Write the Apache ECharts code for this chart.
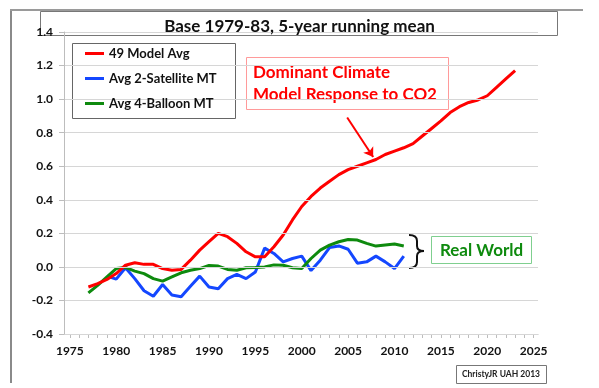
<!DOCTYPE html>
<html><head><meta charset="utf-8">
<script src="https://cdn.jsdelivr.net/npm/echarts@6/dist/echarts.min.js"></script>
<style>html,body{margin:0;padding:0;background:#fff}#c{width:599px;height:388px}</style>
</head><body><div id="c"></div>
<script>
const chartTitle = 'Base 1979-83, 5-year running mean';
const seriesNames = ['49 Model Avg', 'Avg 2-Satellite MT', 'Avg 4-Balloon MT'];

// 49 Model Avg, 1977..2023
const modelStart = 1977;
const modelAvg = [-0.12, -0.10, -0.075, -0.04, 0.01, 0.025, 0.015, 0.015, -0.01, -0.02,
  -0.015, 0.04, 0.10, 0.15, 0.20, 0.18, 0.14, 0.09, 0.06, 0.06,
  0.12, 0.19, 0.28, 0.36, 0.42, 0.47, 0.51, 0.55, 0.58, 0.60,
  0.62, 0.64, 0.67, 0.69, 0.71, 0.735, 0.78, 0.825, 0.87, 0.92,
  0.955, 0.98, 0.995, 1.02, 1.07, 1.12, 1.17];

// Avg 2-Satellite MT, 1979..2011
const satStart = 1979;
const satellite = [-0.055, -0.073, -0.005, -0.07, -0.142, -0.175, -0.105, -0.168, -0.178, -0.115,
  -0.055, -0.12, -0.13, -0.07, -0.045, -0.07, -0.03, 0.112, 0.08, 0.03,
  0.05, 0.064, -0.022, 0.04, 0.115, 0.125, 0.105, 0.022, 0.03, 0.064,
  0.03, -0.01, 0.064];

// Avg 4-Balloon MT, 1977..2011
const balloonStart = 1977;
const balloon = [-0.155, -0.11, -0.06, -0.01, -0.003, -0.025, -0.04, -0.07, -0.085, -0.06,
  -0.035, -0.02, -0.01, 0.008, 0.005, -0.015, -0.02, -0.005, -0.003, 0.0,
  0.012, 0.01, -0.005, -0.01, 0.05, 0.10, 0.13, 0.15, 0.163, 0.16,
  0.14, 0.124, 0.13, 0.136, 0.124];

const xLabelYears = [1975, 1980, 1985, 1990, 1995, 2000, 2005, 2010, 2015, 2020, 2025];
const xTickYears = [1975,1976,1977,1978,1979,1980,1981,1982,1983,1984,1985,1986,1987,1988,1989,1990,
  1991,1992,1993,1994,1995,1996,1997,1998,1999,2000,2001,2002,2003,2004,2005,2006,2007,2008,2009,2010,
  2011,2012,2013,2014,2015,2016,2017,2018,2019,2020,2021,2022,2023,2024,2025];

// arrow annotation endpoints in data space [year, value]
const arrowFrom = [2004.9, 0.89];
const arrowTo = [2007.7, 0.655];

function pairs(start, vals) { return vals.map((v, i) => [start + i, v]); }

const FONT = 'Lato, "Liberation Sans", sans-serif';
const chart = echarts.init(document.getElementById('c'), null, {renderer: 'canvas'});

const braceStyle = {stroke: '#111', lineWidth: 2, fill: null};

chart.setOption({
  animation: false,
  backgroundColor: '#fff',
  title: {
    text: chartTitle, left: 'center', top: 13, z: 10,
    textStyle: {fontFamily: FONT, fontWeight: 'bold', fontSize: 17, color: '#111'}
  },
  legend: {
    orient: 'vertical', left: 80, top: 42, itemGap: 12, z: 10,
    icon: 'rect', itemWidth: 19, itemHeight: 3,
    data: seriesNames,
    textStyle: {fontFamily: FONT, fontWeight: 'bold', fontSize: 13, color: '#111'}
  },
  grid: {left: 64, right: 61, top: 32, bottom: 54},
  xAxis: {
    type: 'value', min: 1974.37, max: 2025.47,
    axisLine: {onZero: false, lineStyle: {color: '#bdbdbd'}},
    axisTick: {show: true, customValues: xTickYears, length: 4, lineStyle: {color: '#bdbdbd'}},
    axisLabel: {customValues: xLabelYears, margin: 11, fontFamily: FONT, fontWeight: 'bold', fontSize: 12, color: '#111',
      formatter: v => String(v)},
    splitLine: {show: false}
  },
  yAxis: {
    type: 'value', min: -0.4, max: 1.4, interval: 0.2, z: 5,
    axisLine: {show: true, lineStyle: {color: '#bdbdbd'}},
    axisTick: {show: true, length: 5, lineStyle: {color: '#bdbdbd'}},
    axisLabel: {margin: 11, fontFamily: FONT, fontWeight: 'bold', fontSize: 12, color: '#111',
      formatter: v => v.toFixed(1)},
    splitLine: {show: true, lineStyle: {color: '#d6d6d6', width: 1}}
  },
  series: [
    {name: seriesNames[0], type: 'line', data: pairs(modelStart, modelAvg), showSymbol: false,
      lineStyle: {color: '#ff0000', width: 3}, itemStyle: {color: '#ff0000'}, z: 4,
      markLine: {silent: true, symbol: ['none', 'arrow'], symbolSize: 9,
        lineStyle: {color: '#ff0000', width: 2, type: 'solid'}, label: {show: false},
        data: [[{coord: arrowFrom}, {coord: arrowTo}]]}},
    {name: seriesNames[1], type: 'line', data: pairs(satStart, satellite), showSymbol: false,
      lineStyle: {color: '#1447ff', width: 3}, itemStyle: {color: '#1447ff'}, z: 3},
    {name: seriesNames[2], type: 'line', data: pairs(balloonStart, balloon), showSymbol: false,
      lineStyle: {color: '#0e8a0e', width: 3}, itemStyle: {color: '#0e8a0e'}, z: 3}
  ],
  graphic: [
    // outer frame
    {type: 'line', shape: {x1: 11, y1: 10, x2: 11, y2: 383}, style: {stroke: '#8a8a8a', lineWidth: 2}, z: 1},
    {type: 'line', shape: {x1: 10, y1: 10, x2: 583, y2: 10}, style: {stroke: '#9a9a9a', lineWidth: 2}, z: 1},
    // title box (transparent)
    {type: 'rect', shape: {x: 40.5, y: 11.5, width: 517, height: 24}, style: {fill: null, stroke: '#777', lineWidth: 1}, z: 2},
    // legend box
    {type: 'rect', shape: {x: 72.5, y: 43.5, width: 163, height: 75}, style: {fill: '#fff', stroke: '#666', lineWidth: 1}, z: 2},
    // annotation box
    {type: 'rect', shape: {x: 246.5, y: 57.5, width: 202, height: 52}, style: {fill: '#fff', stroke: '#ff9a9a', lineWidth: 1}, z: 2},
    {type: 'text', z: 3,
      style: {x: 253, y: 62, text: 'Dominant Climate\nModel Response to CO2', fill: '#ff0000', font: 'bold 17px ' + FONT, lineHeight: 22}},
    // bracket
    {type: 'bezierCurve', z: 3, shape: {x1: 409, y1: 235, cpx1: 417, cpy1: 235, x2: 417, y2: 241}, style: braceStyle},
    {type: 'line', z: 3, shape: {x1: 417, y1: 241, x2: 417, y2: 246}, style: braceStyle},
    {type: 'bezierCurve', z: 3, shape: {x1: 417, y1: 246, cpx1: 417, cpy1: 251, x2: 424, y2: 251}, style: braceStyle},
    {type: 'bezierCurve', z: 3, shape: {x1: 424, y1: 251, cpx1: 417, cpy1: 251, x2: 417, y2: 256}, style: braceStyle},
    {type: 'line', z: 3, shape: {x1: 417, y1: 256, x2: 417, y2: 262}, style: braceStyle},
    {type: 'bezierCurve', z: 3, shape: {x1: 417, y1: 262, cpx1: 417, cpy1: 268, x2: 409, y2: 268}, style: braceStyle},
    // Real World box
    {type: 'rect', shape: {x: 431.5, y: 236.5, width: 100, height: 27}, style: {fill: '#fff', stroke: '#7fcf8f', lineWidth: 1}, z: 2},
    {type: 'text', z: 3,
      style: {x: 481.5, y: 250.5, text: 'Real World', fill: '#0e8a0e', font: 'bold 17px ' + FONT, align: 'center', verticalAlign: 'middle'}},
    // credit box
    {type: 'rect', shape: {x: 456.5, y: 365.5, width: 90, height: 18}, style: {fill: '#fff', stroke: '#777', lineWidth: 1}, z: 2},
    {type: 'text', z: 3,
      style: {x: 501, y: 374.5, text: 'ChristyJR UAH 2013', fill: '#222', font: 'bold 8.5px ' + FONT, align: 'center', verticalAlign: 'middle'}}
  ]
});
</script></body></html>
